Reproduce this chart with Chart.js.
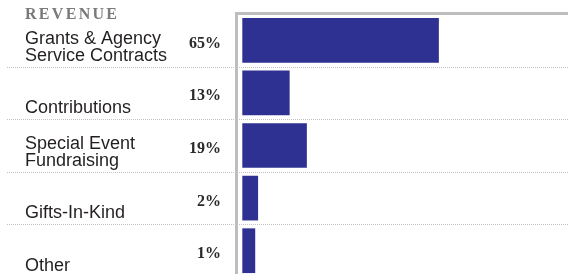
<!DOCTYPE html>
<html>
<head>
<meta charset="utf-8">
<script src="https://cdn.jsdelivr.net/npm/chart.js@4/dist/chart.umd.min.js"></script>
<style>
  html, body { margin: 0; padding: 0; background: #fff; overflow: hidden; }
  #wrap { width: 568px; height: 274px; overflow: hidden; }
  canvas { display: block; }
</style>
</head>
<body>
<div id="wrap"><canvas id="c" width="568" height="277"></canvas></div>
<script>
const title = "REVENUE";
const categories = [
  ["Grants & Agency", "Service Contracts"],
  ["Contributions"],
  ["Special Event", "Fundraising"],
  ["Gifts-In-Kind"],
  ["Other"]
];
const percents = [65, 13, 19, 2, 1];
const percentLabels = ["65%", "13%", "19%", "2%", "1%"];

const barColor = "#2e3192";
const axisColor = "#bcbec0";
const sepColor = "#c2c2c2";

const decor = {
  id: "decor",
  afterDraw(chart) {
    const ctx = chart.ctx;
    const y = chart.scales.y;
    const area = chart.chartArea;
    const band = y.height / categories.length;
    ctx.save();
    // dotted separators
    ctx.strokeStyle = sepColor;
    ctx.lineWidth = 1;
    ctx.setLineDash([1, 1]);
    for (let i = 0; i < categories.length - 1; i++) {
      const yy = Math.round(y.getPixelForValue(i) + band / 2) + 0.5;
      ctx.beginPath();
      ctx.moveTo(7, yy);
      ctx.lineTo(chart.width, yy);
      ctx.stroke();
    }
    ctx.setLineDash([]);
    // axis frame (left + top)
    ctx.strokeStyle = axisColor;
    ctx.lineWidth = 3;
    ctx.beginPath();
    ctx.moveTo(chart.width, area.top - 0.5);
    ctx.lineTo(area.left - 1.5, area.top - 0.5);
    ctx.lineTo(area.left - 1.5, chart.height);
    ctx.stroke();
    // title
    ctx.fillStyle = "#7a7a7a";
    ctx.font = "bold 16px 'Liberation Serif'";
    ctx.letterSpacing = "2.3px";
    ctx.textAlign = "left";
    ctx.textBaseline = "alphabetic";
    ctx.fillText(title, 25, 19);
    ctx.letterSpacing = "0px";
    // category labels
    ctx.fillStyle = "#231f20";
    ctx.font = "18px 'Liberation Sans'";
    categories.forEach((lines, i) => {
      const bottom = y.getPixelForValue(i) + band / 2;
      const base = bottom - 6;
      lines.forEach((t, j) => {
        ctx.fillText(t, 25, base - (lines.length - 1 - j) * 16.5);
      });
    });
    // percent labels
    ctx.fillStyle = "#2a2a2a";
    ctx.font = "bold 16px 'Liberation Serif'";
    ctx.textAlign = "right";
    percentLabels.forEach((t, i) => {
      ctx.fillText(t, 221, y.getPixelForValue(i) + 7.5);
    });
    ctx.restore();
  }
};

new Chart(document.getElementById("c"), {
  type: "bar",
  data: {
    labels: categories.map(l => l.join(" ")),
    datasets: [{
      data: percents,
      base: -3.5,
      backgroundColor: barColor,
      borderWidth: 0,
      barPercentage: 0.85,
      categoryPercentage: 1
    }]
  },
  options: {
    indexAxis: "y",
    responsive: false,
    animation: false,
    layout: { padding: { left: 238, top: 14, right: 0, bottom: 0 } },
    plugins: { legend: { display: false }, tooltip: { enabled: false }, title: { display: false } },
    scales: {
      x: { type: "linear", min: -5, max: 110, display: false },
      y: { type: "category", display: false, offset: true }
    }
  },
  plugins: [decor]
});
</script>
</body>
</html>
